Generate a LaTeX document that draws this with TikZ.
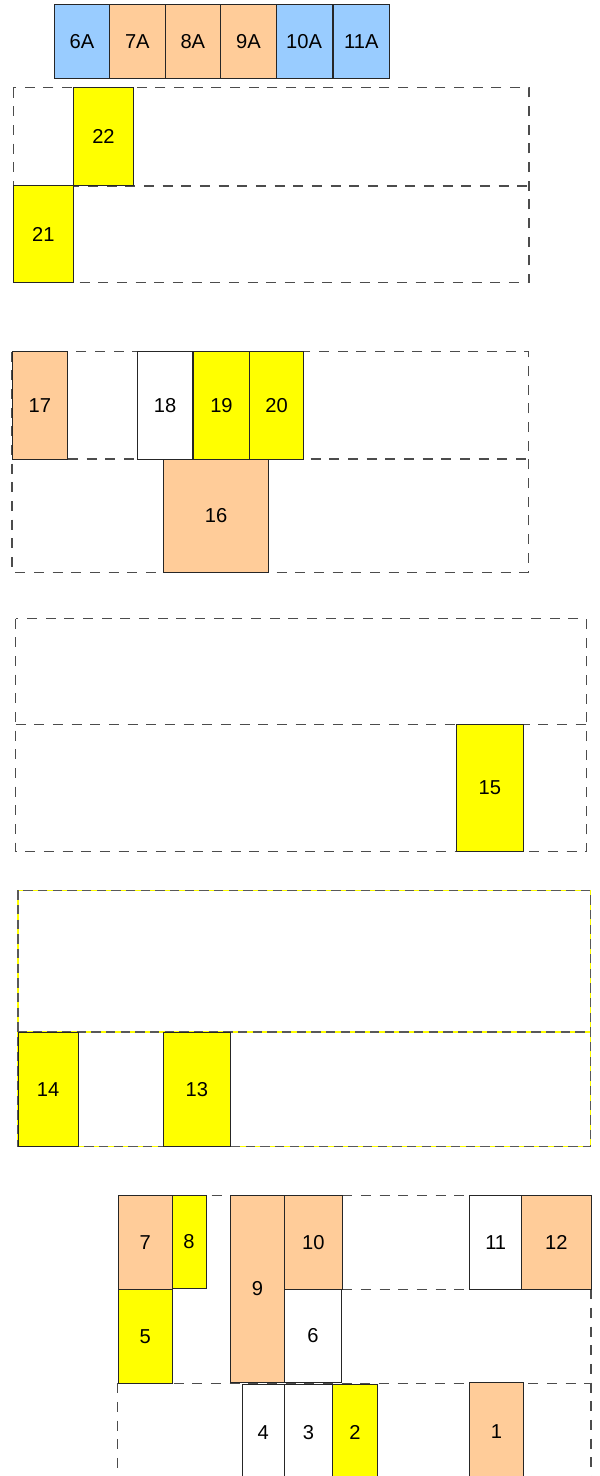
\documentclass[tikz,border=0pt]{standalone}
\usepackage{fontspec}
\setmainfont{Liberation Sans}
\definecolor{cblue}{HTML}{99CCFF}
\definecolor{cpeach}{HTML}{FFCC99}
\definecolor{cyel}{HTML}{FFFF00}
\tikzset{
  blk/.style={draw=black!85, line width=0.75pt, inner sep=0pt, outer sep=0pt, anchor=north west,
    font=\fontsize{15.1}{18}\selectfont},
  dsh/.style={draw=black!70, line width=0.8pt, dash pattern=on 7.5pt off 6.5pt},
  ydsh/.style={draw=black!65, line width=0.8pt, dash pattern=on 7pt off 4pt},
  yline/.style={draw=cyel, line width=0.9pt}
}
\newcommand{\blk}[7]{%
  \node[blk, fill=#2, minimum width={(#5-#3)*0.75pt}, minimum height={(#6-#4)*0.75pt}] (#1) at (#3,#4) {#7};}
\begin{document}
\begin{tikzpicture}[x=0.75pt,y=-0.75pt]
\useasboundingbox (0,0) rectangle (599,1476);
\clip (0,0) rectangle (599,1476);
% ---- section 1
\draw[dsh] (13.3,87.7) rectangle (529,282.7);
\draw[dsh] (13.3,186) -- (529,186);
% ---- section 2
\draw[dsh] (12,351.7) rectangle (528.5,572.3);
\draw[dsh] (12,459) -- (528.5,459);
% ---- section 3
\draw[dsh] (15.5,618.7) rectangle (586.5,851.7);
\draw[dsh] (15.5,724.3) -- (586.5,724.3);
% ---- section 4
\draw[yline] (18,890.3) rectangle (590.5,1146.5);
\draw[yline] (18,1032) -- (590.5,1032);
\draw[ydsh] (18,890.3) rectangle (590.5,1146.5);
\draw[ydsh] (18,1032) -- (590.5,1032);
% ---- section 5
\coordinate (t1) at (118.3,1195.3);
\coordinate (t2) at (591,1195.3);
\coordinate (m1) at (342.3,1289.3);
\coordinate (m2) at (469.7,1289.3);
\coordinate (b1) at (117.5,1383.3);
\coordinate (b2) at (591,1383.3);
\coordinate (r1) at (591,1289.3);
\coordinate (r2) at (591,1480);
\coordinate (l2) at (117.5,1480);
\draw[dsh] (t1) -- (t2);
\draw[dsh] (m1) -- (m2);
\draw[dsh] (b1) -- (b2);
\draw[dsh] (r1) -- (r2);
\draw[dsh] (b1) -- (l2);
% ---- top row
\blk{a6}{cblue}{54.3}{4.3}{109.7}{78.7}{6A}
\blk{a7}{cpeach}{109.7}{4.3}{165}{78.7}{7A}
\blk{a8}{cpeach}{165}{4.3}{220.7}{78.7}{8A}
\blk{a9}{cpeach}{220.7}{4.3}{276.3}{78.7}{9A}
\blk{a10}{cblue}{276.3}{4.3}{332}{78.7}{10A}
\blk{a11}{cblue}{333.7}{4.3}{389}{78.7}{11A}
% ---- section 1 boxes
\blk{n22}{cyel}{73.3}{87.7}{133.7}{185.7}{22}
\blk{n21}{cyel}{13.3}{185.7}{73.3}{282.7}{21}
% ---- section 2 boxes
\blk{n17}{cpeach}{12}{351.7}{67.6}{459}{17}
\blk{n18}{white}{137.5}{351.7}{192.5}{459}{18}
\blk{n19}{cyel}{193.5}{351.7}{249.4}{459}{19}
\blk{n20}{cyel}{249.4}{351.7}{303.7}{459}{20}
\blk{n16}{cpeach}{163.1}{459}{268.9}{572.3}{16}
% ---- section 3 boxes
\blk{n15}{cyel}{456.5}{724.3}{523.3}{851.7}{15}
% ---- section 4 boxes
\blk{n14}{cyel}{18}{1032}{78.3}{1146.3}{14}
\blk{n13}{cyel}{163.5}{1032}{230.3}{1146.3}{13}
% ---- section 5 boxes
\blk{n7}{cpeach}{118.3}{1195.3}{172}{1289.3}{7}
\blk{n8}{cyel}{172}{1195.3}{206}{1288.3}{8}
\blk{n9}{cpeach}{230.5}{1195.3}{284.3}{1382.3}{9}
\blk{n10}{cpeach}{284.3}{1195.3}{342.3}{1289.3}{10}
\blk{n6}{white}{284.3}{1289.3}{341.7}{1382.3}{6}
\blk{n5}{cyel}{118.3}{1289.3}{172}{1383.3}{5}
\blk{n11}{white}{469.7}{1195.3}{521.7}{1289.3}{11}
\blk{n12}{cpeach}{521.7}{1195.3}{591}{1289.3}{12}
\blk{n4}{white}{242}{1384}{284.3}{1481.5}{4}
\blk{n3}{white}{284.3}{1384}{332.7}{1481.5}{3}
\blk{n2}{cyel}{332.7}{1384}{377}{1481.5}{2}
\blk{n1}{cpeach}{469.7}{1382.3}{523.3}{1481.5}{1}
\end{tikzpicture}
\end{document}
